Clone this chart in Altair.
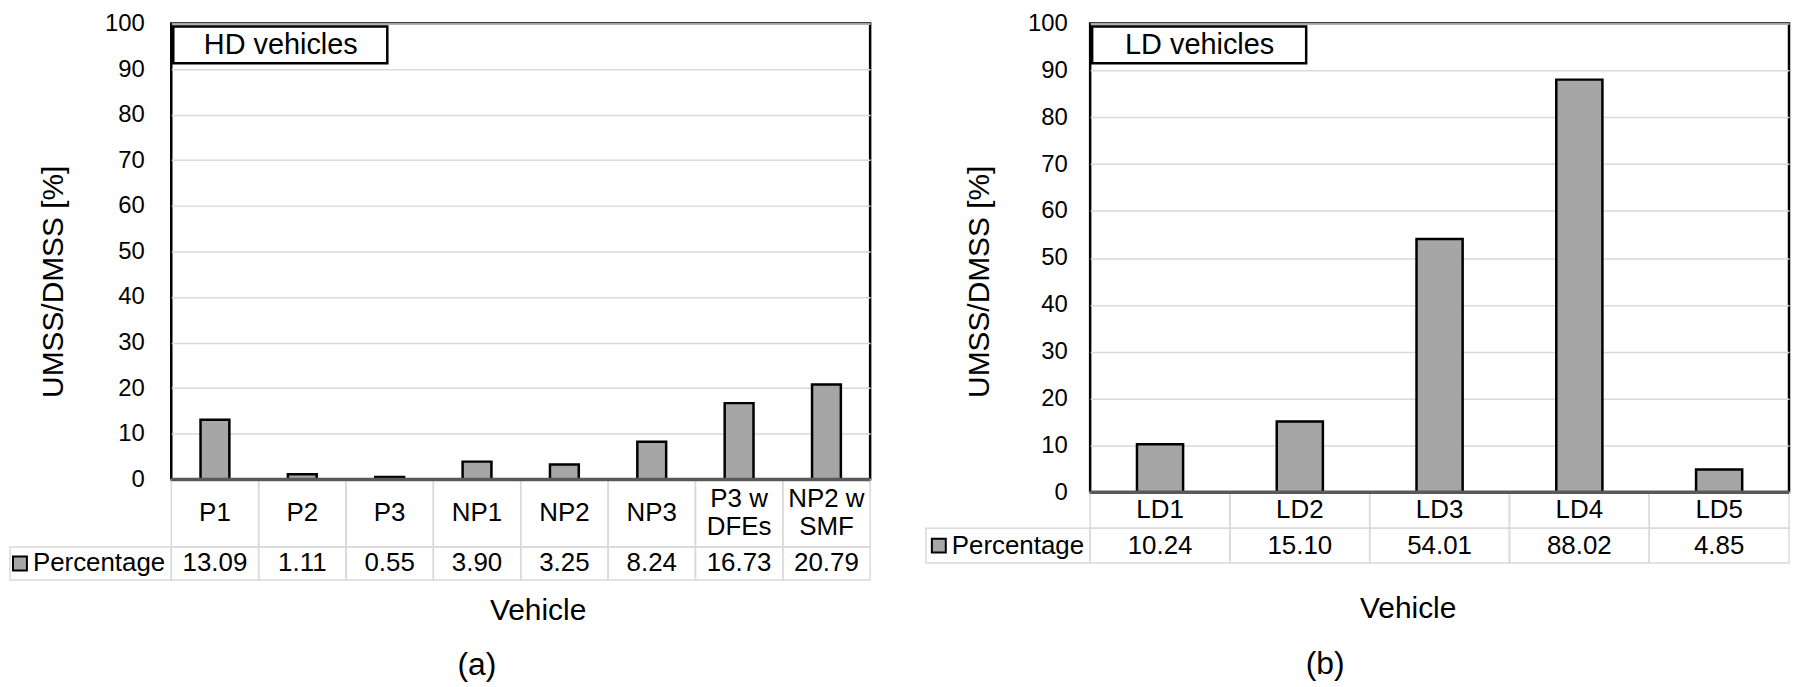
import altair as alt
import pandas as pd

# ---------------- data ----------------
hd_categories = ["P1", "P2", "P3", "NP1", "NP2", "NP3", "P3 w\nDFEs", "NP2 w\nSMF"]
hd_values = [13.09, 1.11, 0.55, 3.90, 3.25, 8.24, 16.73, 20.79]
ld_categories = ["LD1", "LD2", "LD3", "LD4", "LD5"]
ld_values = [10.24, 15.10, 54.01, 88.02, 4.85]
y_ticks = [0, 10, 20, 30, 40, 50, 60, 70, 80, 90, 100]
series_name = "Percentage"
y_title = "UMSS/DMSS [%]"
x_title = "Vehicle"

FONT = "Liberation Sans"
BAR_FILL = "#a6a6a6"
GRID = "#d9d9d9"
W = 702
TXT = 26


def panel(cats, vals, box_label, fig_label, H, row1, row2, label_pad,
          title_x, veh_x, veh_y, fig_x, fig_y, legend_w):
    df = pd.DataFrame({
        "cat": cats, "val": vals,
        "label": [f"{v:.2f}" for v in vals],
        "l1": [c.split("\n")[0] for c in cats],
        "l2": [c.split("\n")[1] if "\n" in c else "" for c in cats],
    })
    X = alt.X("cat:N", sort=cats,
              scale=alt.Scale(paddingInner=0, paddingOuter=0),
              axis=alt.Axis(title=x_title, labels=False, ticks=False, domain=False,
                            grid=False, titleX=veh_x, titleY=veh_y,
                            titleAlign="center", titleBaseline="middle",
                            titleFontSize=30, titleFontWeight="normal",
                            titleColor="black", titleFont=FONT))
    Y = alt.Y("val:Q", scale=alt.Scale(domain=[0, 100], nice=False),
              axis=alt.Axis(values=y_ticks, title=y_title, grid=True,
                            gridColor=GRID, gridWidth=1.5, domain=False,
                            ticks=False, tickSize=0, labelPadding=label_pad,
                            labelFontSize=24, labelColor="black", labelFont=FONT,
                            titleFontSize=30, titleFontWeight="normal",
                            titleColor="black", titleFont=FONT,
                            titleX=title_x, titleY=259, titleAlign="center",
                            titleBaseline="middle"))
    base = alt.Chart(df)

    cell_style = dict(fill="white", fillOpacity=0, stroke=GRID, strokeWidth=1.5)
    row1_cells = base.mark_rect(**cell_style).encode(
        x=X, y=alt.value(H), y2=alt.value(H + row1))
    row2_cells = base.mark_rect(**cell_style).encode(
        x=X, y=alt.value(H + row1), y2=alt.value(H + row1 + row2))

    leg_df = pd.DataFrame({"name": [series_name]})
    leg_base = alt.Chart(leg_df)
    r1c = H + row1 / 2
    r2c = H + row1 + row2 / 2
    legend_cell = leg_base.mark_rect(**cell_style).encode(
        x=alt.value(-legend_w), x2=alt.value(0),
        y=alt.value(H + row1), y2=alt.value(H + row1 + row2))
    swatch = leg_base.mark_rect(fill=BAR_FILL, stroke="black", strokeWidth=2).encode(
        x=alt.value(-159), x2=alt.value(-145),
        y=alt.value(r2c - 7), y2=alt.value(r2c + 7))
    legend_text = leg_base.mark_text(align="left", baseline="middle", fontSize=TXT,
                                     font=FONT, color="black").encode(
        x=alt.value(-139), y=alt.value(r2c), text="name:N")

    tstyle = dict(baseline="middle", fontSize=TXT, font=FONT, color="black")
    cat_single = base.transform_filter(alt.datum.l2 == "").mark_text(**tstyle).encode(
        x=X, y=alt.value(r1c), text="l1:N")
    cat_top = base.transform_filter(alt.datum.l2 != "").mark_text(**tstyle).encode(
        x=X, y=alt.value(r1c - 14), text="l1:N")
    cat_bottom = base.transform_filter(alt.datum.l2 != "").mark_text(**tstyle).encode(
        x=X, y=alt.value(r1c + 14), text="l2:N")
    val_text = base.mark_text(**tstyle).encode(
        x=X, y=alt.value(r2c), text="label:N")

    bars = base.mark_bar(width=alt.RelativeBandSize(0.33), fill=BAR_FILL,
                         stroke="black", strokeWidth=2.5).encode(x=X, y=Y)

    zero = alt.Chart(pd.DataFrame({"val": [0]})).mark_rule(
        color="#595959", strokeWidth=3.5).encode(y=Y)

    box_df = pd.DataFrame({"name": [box_label]})
    box = alt.Chart(box_df).mark_rect(fill="white", stroke="black", strokeWidth=2.5).encode(
        x=alt.value(2), x2=alt.value(217), y=alt.value(3), y2=alt.value(40))
    box_text = alt.Chart(box_df).mark_text(baseline="middle", fontSize=29, font=FONT,
                                           color="black").encode(
        x=alt.value(110), y=alt.value(22), text="name:N")

    fig_text = alt.Chart(pd.DataFrame({"name": [fig_label]})).mark_text(
        baseline="middle", fontSize=32, font=FONT, color="black").encode(
        x=alt.value(fig_x), y=alt.value(H + fig_y), text="name:N")

    return alt.layer(row1_cells, row2_cells, legend_cell, swatch, legend_text,
                     cat_single, cat_top, cat_bottom, val_text, bars, zero,
                     box, box_text, fig_text
                     ).properties(width=W, height=H)


left = panel(hd_categories, hd_values, "HD vehicles", "(a)", H=458, row1=68, row2=33,
             label_pad=27, title_x=-118, veh_x=368, veh_y=132, fig_x=307, fig_y=186,
             legend_w=162)
right = panel(ld_categories, ld_values, "LD vehicles", "(b)", H=471, row1=36, row2=35,
              label_pad=23, title_x=-111, veh_x=319, veh_y=117, fig_x=236, fig_y=172,
              legend_w=165)

chart = alt.hconcat(left, right, spacing=221, bounds="flush").properties(
    padding=0, background="white"
).resolve_scale(x="independent", y="independent").configure(font=FONT).configure_view(
    stroke="black", strokeWidth=2.5)

chart.save("out.html", embed_options={"renderer": "svg", "actions": False})
